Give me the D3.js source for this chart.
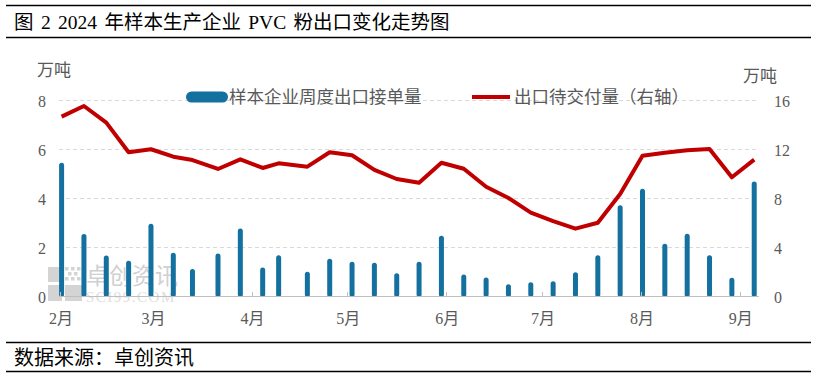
<!DOCTYPE html>
<html>
<head>
<meta charset="utf-8">
<script src="https://cdn.jsdelivr.net/npm/d3@7"></script>
<style>
    body { margin: 0; background: #fff; }
    #chart-area { width: 816px; height: 376px; }
    text { font-family: "Liberation Serif", "Noto Sans CJK SC", serif; }
</style>
</head>
<body>
<div id="chart-area"></div>
<script>

// weekly report dates
const weekDates = [
    "2024-02-01", "2024-02-08", "2024-02-15", "2024-02-22", "2024-02-29", "2024-03-07", "2024-03-13", "2024-03-21",
    "2024-03-28", "2024-04-04", "2024-04-09", "2024-04-18", "2024-04-25", "2024-05-02", "2024-05-09", "2024-05-16",
    "2024-05-23", "2024-05-30", "2024-06-06", "2024-06-13", "2024-06-20", "2024-06-27", "2024-07-04", "2024-07-11",
    "2024-07-18", "2024-07-25", "2024-08-01", "2024-08-08", "2024-08-15", "2024-08-22", "2024-08-29", "2024-09-05"
];

// 样本企业周度出口接单量 (万吨, left axis)
const orderVolume = [
    5.44, 2.53, 1.65, 1.44, 2.95, 1.77, 1.10, 1.73,
    2.76, 1.16, 1.66, 0.99, 1.52, 1.40, 1.36, 0.93,
    1.40, 2.46, 0.88, 0.76, 0.48, 0.56, 0.60, 0.97,
    1.66, 3.70, 4.38, 2.13, 2.54, 1.66, 0.75, 4.67
];

// 出口待交付量 (万吨, right axis)
const pendingDelivery = [
    14.64, 15.51, 14.15, 11.73, 11.98, 11.37, 11.10, 10.37,
    11.16, 10.45, 10.83, 10.56, 11.73, 11.49, 10.29, 9.55,
    9.25, 10.88, 10.39, 8.92, 8.00, 6.80, 6.12, 5.50,
    5.98, 8.33, 11.45, 11.70, 11.89, 12.00, 9.69, 11.13
];

const leftTicks = [0, 2, 4, 6, 8];
const rightTicks = [0, 4, 8, 12, 16];
const monthLabels = ["2月", "3月", "4月", "5月", "6月", "7月", "8月", "9月"];
const seriesNames = ["样本企业周度出口接单量", "出口待交付量（右轴）"];


class ExportChart {

    constructor(_parentElement) {
        this.parentElement = _parentElement;
        this.initVis();
    }

    initVis() {
        let vis = this;

        vis.margin = {top: 100, right: 57, bottom: 80, left: 60};
        vis.width = 816 - vis.margin.left - vis.margin.right;
        vis.height = 376 - vis.margin.top - vis.margin.bottom;

        vis.root = d3.select("#" + vis.parentElement).append("svg")
            .attr("width", 816)
            .attr("height", 376);

        // header / footer rules and texts
        vis.root.append("line").attr("x1", 6).attr("x2", 811).attr("y1", 5.5).attr("y2", 5.5)
            .attr("stroke", "#000").attr("stroke-width", 1.5);
        vis.root.append("line").attr("x1", 6).attr("x2", 811).attr("y1", 37.5).attr("y2", 37.5)
            .attr("stroke", "#000").attr("stroke-width", 1.5);
        vis.root.append("text")
            .attr("x", 14).attr("y", 22)
            .attr("dominant-baseline", "central")
            .style("font-size", "19.5px")
            .style("word-spacing", "2.5px")
            .attr("fill", "#000")
            .text("图 2 2024 年样本生产企业 PVC 粉出口变化走势图");

        vis.root.append("line").attr("x1", 6).attr("x2", 811).attr("y1", 342.5).attr("y2", 342.5)
            .attr("stroke", "#000").attr("stroke-width", 1.5);
        vis.root.append("line").attr("x1", 6).attr("x2", 811).attr("y1", 371.5).attr("y2", 371.5)
            .attr("stroke", "#000").attr("stroke-width", 1.5);
        vis.root.append("text")
            .attr("x", 14).attr("y", 358)
            .attr("dominant-baseline", "central")
            .style("font-size", "20px")
            .attr("fill", "#000")
            .text("数据来源：卓创资讯");

        // watermark
        let wm = vis.root.append("g").attr("class", "watermark");
        wm.append("rect").attr("x", 48).attr("y", 267).attr("width", 14).attr("height", 15).attr("fill", "#d4d4d4");
        wm.append("rect").attr("x", 48).attr("y", 285).attr("width", 14).attr("height", 16).attr("fill", "#d4d4d4");
        wm.append("rect").attr("x", 65).attr("y", 285).attr("width", 17).attr("height", 16).attr("fill", "#d4d4d4");
        [[65, 267], [71, 267], [77, 267], [68, 272], [74, 272], [65, 277], [71, 277], [77, 277]].forEach(p => {
            wm.append("rect").attr("x", p[0]).attr("y", p[1]).attr("width", 3.5).attr("height", 3.5).attr("fill", "#d4d4d4");
        });
        wm.append("text").attr("x", 86).attr("y", 276).attr("dominant-baseline", "central")
            .style("font-size", "23px").attr("fill", "#d0d0d0").text("卓创资讯");
        wm.append("text").attr("x", 86).attr("y", 302)
            .style("font-size", "15px").style("letter-spacing", "1.5px")
            .attr("fill", "#dedede").text("SCI99.COM");

        vis.svg = vis.root.append("g")
            .attr("transform", "translate(" + vis.margin.left + "," + vis.margin.top + ")");

        // scales
        vis.x = d3.scaleTime()
            .domain([new Date(2024, 1, 1), new Date(2024, 8, 7)])
            .range([0, vis.width]);

        vis.yLeft = d3.scaleLinear().domain([0, 8]).range([vis.height, 0]);
        vis.yRight = d3.scaleLinear().domain([0, 16]).range([vis.height, 0]);

        // gridlines
        vis.svg.append("g").attr("class", "grid")
            .selectAll("line")
            .data(leftTicks.filter(d => d > 0))
            .enter().append("line")
            .attr("x1", -1).attr("x2", vis.width - 2)
            .attr("y1", d => vis.yLeft(d) + 0.5).attr("y2", d => vis.yLeft(d) + 0.5)
            .attr("stroke", "#d9d9d9")
            .attr("stroke-dasharray", "4,3");

        // left axis labels
        vis.svg.append("g").attr("class", "y-left")
            .selectAll("text")
            .data(leftTicks)
            .enter().append("text")
            .attr("x", -14)
            .attr("y", d => vis.yLeft(d) + 1.5)
            .attr("text-anchor", "end")
            .attr("dominant-baseline", "central")
            .style("font-size", "16px")
            .attr("fill", "#595959")
            .text(d => d);

        // right axis labels
        vis.svg.append("g").attr("class", "y-right")
            .selectAll("text")
            .data(rightTicks)
            .enter().append("text")
            .attr("x", vis.width + 15)
            .attr("y", d => vis.yRight(d) + 1.5)
            .attr("text-anchor", "start")
            .attr("dominant-baseline", "central")
            .style("font-size", "16px")
            .attr("fill", "#595959")
            .text(d => d);

        // units
        vis.root.append("text").attr("x", 37).attr("y", 70).attr("dominant-baseline", "central")
            .style("font-size", "17px").attr("fill", "#595959").text("万吨");
        vis.root.append("text").attr("x", 743).attr("y", 76).attr("dominant-baseline", "central")
            .style("font-size", "17px").attr("fill", "#595959").text("万吨");

        // legend
        let legend = vis.root.append("g").attr("class", "legend");
        legend.append("rect").attr("x", 186).attr("y", 91.5).attr("width", 42).attr("height", 11)
            .attr("rx", 5.5).attr("fill", "#13709f");
        legend.append("text").attr("x", 229).attr("y", 97).attr("dominant-baseline", "central")
            .style("font-size", "17.5px").attr("fill", "#595959").text(seriesNames[0]);
        legend.append("line").attr("x1", 472).attr("x2", 510).attr("y1", 97).attr("y2", 97)
            .attr("stroke", "#c00000").attr("stroke-width", 4);
        legend.append("text").attr("x", 514).attr("y", 97).attr("dominant-baseline", "central")
            .style("font-size", "17.5px").attr("fill", "#595959").text(seriesNames[1]);

        vis.barGroup = vis.svg.append("g").attr("class", "bars");
        vis.lineGroup = vis.svg.append("g").attr("class", "line");
        vis.axisGroup = vis.svg.append("g").attr("class", "x-axis");

        this.wrangleData();
    }

    wrangleData() {
        let vis = this;
        let parse = d3.timeParse("%Y-%m-%d");

        vis.displayData = weekDates.map((d, i) => {
            let date = parse(d);
            return {
                date: d3.timeHour.offset(date, 12),
                orders: orderVolume[i],
                pending: pendingDelivery[i]
            };
        });

        vis.monthTicks = d3.timeMonth.range(new Date(2024, 1, 1), new Date(2024, 8, 2));

        vis.updateVis();
    }

    updateVis() {
        let vis = this;
        let barWidth = 5;

        vis.barGroup.selectAll(".bar")
            .data(vis.displayData)
            .enter().append("rect")
            .attr("class", "bar")
            .attr("x", d => vis.x(d.date) - barWidth / 2)
            .attr("y", d => vis.yLeft(d.orders))
            .attr("width", barWidth)
            .attr("height", d => vis.height - vis.yLeft(d.orders) + 1)
            .attr("rx", 2.5)
            .attr("fill", "#13709f");

        let line = d3.line()
            .x(d => vis.x(d.date))
            .y(d => vis.yRight(d.pending));

        vis.lineGroup.append("path")
            .datum(vis.displayData)
            .attr("d", line)
            .attr("fill", "none")
            .attr("stroke", "#c00000")
            .attr("stroke-width", 4)
            .attr("stroke-linejoin", "round");

        // x axis: baseline, month ticks pointing up, labels
        vis.axisGroup.append("line")
            .attr("x1", 0).attr("x2", vis.width)
            .attr("y1", vis.height + 0.5).attr("y2", vis.height + 0.5)
            .attr("stroke", "#bfbfbf");

        vis.axisGroup.selectAll(".tick")
            .data(vis.monthTicks)
            .enter().append("line")
            .attr("class", "tick")
            .attr("x1", d => Math.round(vis.x(d)) + 0.5).attr("x2", d => Math.round(vis.x(d)) + 0.5)
            .attr("y1", vis.height - 4).attr("y2", vis.height)
            .attr("stroke", "#bfbfbf");

        vis.axisGroup.selectAll(".month-label")
            .data(vis.monthTicks)
            .enter().append("text")
            .attr("class", "month-label")
            .attr("x", d => vis.x(d) + 1)
            .attr("y", vis.height + 22)
            .attr("text-anchor", "middle")
            .attr("dominant-baseline", "central")
            .style("font-size", "16px")
            .attr("fill", "#595959")
            .text((d, i) => monthLabels[i]);
    }
}

new ExportChart("chart-area");

</script>
</body>
</html>
